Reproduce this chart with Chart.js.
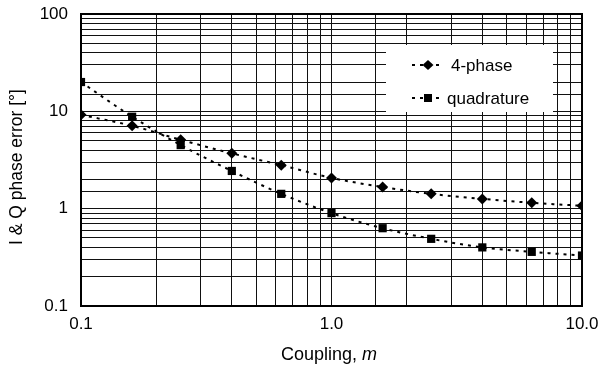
<!DOCTYPE html>
<html>
<head>
<meta charset="utf-8">
<script src="https://cdn.jsdelivr.net/npm/chart.js@4/dist/chart.umd.min.js"></script>
<style>
html,body{margin:0;padding:0;background:#fff;}
#wrap{width:600px;height:366px;position:relative;}
</style>
</head>
<body>
<div id="wrap"><canvas id="c" width="600" height="366"></canvas></div>
<script>
// ---- data ----
const coupling = [0.1, 0.16, 0.25, 0.4, 0.63, 1.0, 1.6, 2.5, 4.0, 6.3, 10.0];
const fourPhase = [9.2, 7.1, 5.1, 3.7, 2.8, 2.07, 1.67, 1.42, 1.26, 1.15, 1.07];
const quadrature = [20, 8.8, 4.5, 2.44, 1.42, 0.90, 0.63, 0.49, 0.40, 0.36, 0.33];
const seriesLabels = ['4-phase', 'quadrature'];
const xTickValues = [0.1, 1, 10];
const xTickLabels = ['0.1', '1.0', '10.0'];
const yTickValues = [0.1, 1, 10, 100];
const yTickLabels = ['0.1', '1', '10', '100'];
const yTitle = 'I & Q phase error [°]';
const xTitleMain = 'Coupling, ';
const xTitleItalic = 'm';

const FONT = '"Liberation Sans", Arial, sans-serif';

function labelFor(v, vals, labels) {
  for (let i = 0; i < vals.length; i++) {
    if (Math.abs(Math.log10(v) - Math.log10(vals[i])) < 1e-6) return labels[i];
  }
  return '';
}
function pts(ys) { return coupling.map((x, i) => ({x: x, y: ys[i]})); }

const extras = {
  id: 'extras',
  beforeDatasetsDraw(chart) {
    const ctx = chart.ctx, a = chart.chartArea;
    ctx.save();
    ctx.fillStyle = '#fff';
    ctx.fillRect(a.left + 305, a.top + 31, 167, 67);
    ctx.restore();
  },
  afterDatasetsDraw(chart) {
    const ctx = chart.ctx, a = chart.chartArea;
    ctx.save();
    const items = [
      {label: seriesLabels[0], style: 'diamond', y: a.top + 51, tx: a.left + 370},
      {label: seriesLabels[1], style: 'square', y: a.top + 84, tx: a.left + 366}
    ];
    items.forEach((it) => {
      const cx = a.left + 347;
      ctx.strokeStyle = '#000';
      ctx.lineWidth = 2;
      ctx.setLineDash([3, 5]);
      ctx.beginPath();
      ctx.moveTo(a.left + 331, it.y);
      ctx.lineTo(a.left + 363, it.y);
      ctx.stroke();
      ctx.setLineDash([]);
      ctx.fillStyle = '#000';
      ctx.beginPath();
      if (it.style === 'diamond') {
        ctx.moveTo(cx, it.y - 5); ctx.lineTo(cx + 5.5, it.y); ctx.lineTo(cx, it.y + 5); ctx.lineTo(cx - 5.5, it.y); ctx.closePath();
      } else {
        ctx.rect(cx - 4, it.y - 4, 8, 8);
      }
      ctx.fill();
      ctx.font = '17px ' + FONT;
      ctx.textAlign = 'left';
      ctx.textBaseline = 'middle';
      ctx.fillText(it.label, it.tx, it.y + 1);
    });
    ctx.strokeStyle = '#000';
    ctx.lineWidth = 2;
    ctx.strokeRect(a.left, a.top, a.right - a.left, a.bottom - a.top);
    ctx.fillStyle = '#000';
    ctx.textBaseline = 'middle';
    ctx.font = '18px ' + FONT;
    const w1 = ctx.measureText(xTitleMain).width;
    ctx.font = 'italic 18px ' + FONT;
    const w2 = ctx.measureText(xTitleItalic).width;
    const x0 = 329 - (w1 + w2) / 2;
    ctx.textAlign = 'left';
    ctx.font = '18px ' + FONT;
    ctx.fillText(xTitleMain, x0, 355);
    ctx.font = 'italic 18px ' + FONT;
    ctx.fillText(xTitleItalic, x0 + w1, 355);
    ctx.translate(17, 167);
    ctx.rotate(-Math.PI / 2);
    ctx.textAlign = 'center';
    ctx.font = '17.5px ' + FONT;
    ctx.fillText(yTitle, 0, 0);
    ctx.restore();
  }
};

new Chart(document.getElementById('c'), {
  type: 'scatter',
  data: {
    datasets: [
      {
        label: seriesLabels[0], data: pts(fourPhase), showLine: true,
        borderColor: '#000', backgroundColor: '#000', borderWidth: 2, borderDash: [3, 5],
        tension: 0.4, cubicInterpolationMode: 'monotone',
        pointStyle: 'rectRot', pointRadius: 5.5, pointHoverRadius: 5.5, pointBorderWidth: 0
      },
      {
        label: seriesLabels[1], data: pts(quadrature), showLine: true,
        borderColor: '#000', backgroundColor: '#000', borderWidth: 2, borderDash: [3, 5],
        tension: 0.4, cubicInterpolationMode: 'monotone',
        pointStyle: 'rect', pointRadius: 5.8, pointHoverRadius: 5.8, pointBorderWidth: 0
      }
    ]
  },
  options: {
    responsive: false,
    animation: false,
    events: [],
    layout: {padding: {top: 14, right: 18, left: 0, bottom: 0}},
    plugins: {legend: {display: false}, tooltip: {enabled: false}},
    scales: {
      x: {
        type: 'logarithmic', min: 0.1, max: 10,
        afterFit(s) { s.height = 60; s.paddingLeft = 0; s.paddingRight = 0; },
        border: {display: false},
        grid: {color: '#111', lineWidth: 1, drawTicks: false, tickLength: 0},
        ticks: {
          autoSkip: false, maxRotation: 0, padding: 8, color: '#000',
          font: {family: FONT, size: 17},
          callback: (v) => labelFor(v, xTickValues, xTickLabels)
        }
      },
      y: {
        type: 'logarithmic', min: 0.1, max: 100,
        afterFit(s) { s.width = 81; s.paddingTop = 0; s.paddingBottom = 0; },
        border: {display: false},
        grid: {color: '#111', lineWidth: 1, drawTicks: false, tickLength: 0},
        ticks: {
          autoSkip: false, padding: 13, color: '#000',
          font: {family: FONT, size: 17},
          callback: (v) => labelFor(v, yTickValues, yTickLabels)
        }
      }
    }
  },
  plugins: [extras]
});
</script>
</body>
</html>
